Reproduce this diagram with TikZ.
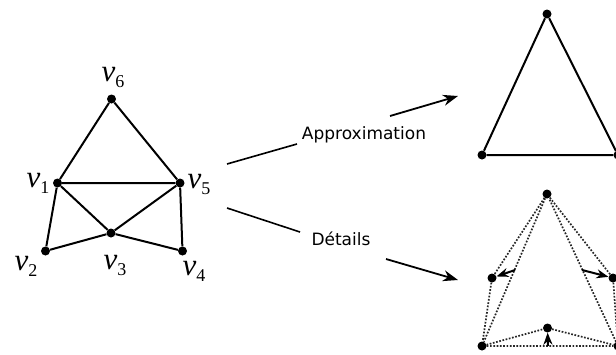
\documentclass[tikz,border=0pt]{standalone}
\usepackage{fontspec}
\setmainfont{DejaVu Sans}
\newfontfamily\timesfont{Liberation Serif}
\usetikzlibrary{arrows.meta}
\newcommand{\vlab}[1]{{\timesfont\fontsize{31}{31}\selectfont\itshape v\/}{\timesfont\fontsize{18}{18}\selectfont\raisebox{-6pt}{#1}}}
\begin{document}
\begin{tikzpicture}[x=1pt,y=-1pt,
  dot/.style={circle,fill=black,inner sep=0pt,minimum size=9pt},
  edge/.style={line width=2pt},
  dots/.style={line width=1.7pt,dash pattern=on 1.7pt off 1.6pt,black!85},
  arr/.style={line width=1.8pt,-{Stealth[length=15pt,width=11pt]}},
  sarr/.style={line width=2pt,-{Stealth[length=12pt,width=9pt]}},
  vl/.style={inner sep=0pt},
  lbl/.style={inner sep=0pt,font=\fontsize{17}{17}\selectfont}]
\useasboundingbox (0,0) rectangle (616,354);
% left graph
\node[dot] (v6) at (111.5,99) {};
\node[dot] (v1) at (57.5,183) {};
\node[dot] (v5) at (180,183) {};
\node[dot] (v2) at (45.5,251) {};
\node[dot] (v3) at (111,233) {};
\node[dot] (v4) at (182.5,251) {};
\draw[edge] (v6) -- (v1) -- (v5) -- (v6);
\draw[edge] (v1) -- (v2) -- (v3) -- (v4) -- (v5);
\draw[edge] (v1) -- (v3) -- (v5);
\node[vl] (l6) at (113,77) {\vlab{6}};
\node[vl] (l1) at (38,183) {\vlab{1}};
\node[vl] (l5) at (199,184) {\vlab{5}};
\node[vl] (l2) at (26,266) {\vlab{2}};
\node[vl] (l3) at (115,265) {\vlab{3}};
\node[vl] (l4) at (194,271) {\vlab{4}};
% middle arrows
\coordinate (a1) at (227,164);
\coordinate (a2) at (297,144);
\coordinate (a3) at (390,116);
\coordinate (a4) at (458,96);
\node[lbl] (tapp) at (364,135) {Approximation};
\draw[line width=1.6pt] (a1) -- (a2);
\draw[arr] (a3) -- (a4);
\coordinate (d1) at (227,208);
\coordinate (d2) at (300,232);
\coordinate (d3) at (386,259);
\coordinate (d4) at (458,280);
\node[lbl] (tdet) at (341,239) {Détails};
\draw[line width=1.6pt] (d1) -- (d2);
\draw[arr] (d3) -- (d4);
% approximation triangle
\node[dot] (t1) at (547,14) {};
\node[dot] (t2) at (482,155) {};
\node[dot] (t3) at (618,155) {};
\draw[edge] (t1) -- (t2) -- (t3) -- (t1);
% details triangle
\node[dot] (b1) at (547,194) {};
\node[dot] (b2) at (482,346) {};
\node[dot] (b3) at (618,346) {};
\node[dot] (bl) at (492,278) {};
\node[dot] (br) at (613,278) {};
\node[dot] (bm) at (547.5,328) {};
\draw[dots] (b1) -- (b2) -- (b3) -- (b1);
\draw[dots] (b1) -- (bl) -- (b2);
\draw[dots] (b1) -- (br) -- (b3);
\draw[dots] (b2) -- (bm) -- (b3);
\coordinate (ml) at (515,270);
\coordinate (mr) at (582,270);
\coordinate (mb) at (548,346);
\draw[sarr] (ml) -- (bl);
\draw[sarr] (mr) -- (br);
\draw[sarr] (mb) -- (bm);
\end{tikzpicture}
\end{document}
